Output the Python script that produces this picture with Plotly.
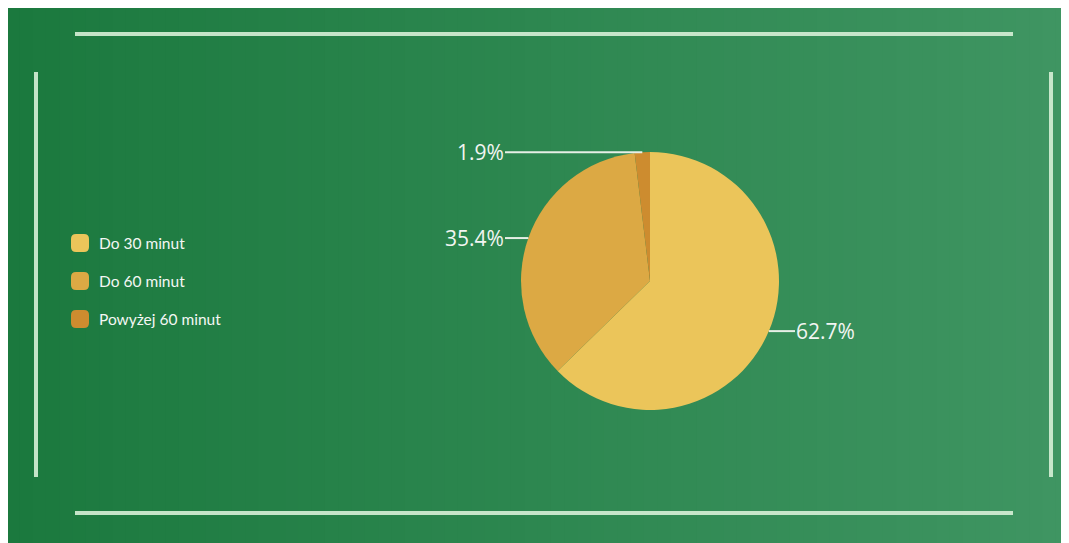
import math
import plotly.graph_objects as go

# ---- data ----
categories = ["Do 30 minut", "Do 60 minut", "Powyżej 60 minut"]
values = [62.7, 35.4, 1.9]
value_labels = ["62.7%", "35.4%", "1.9%"]
colors = ["#ebc55a", "#dca944", "#cd8c2f"]

# ---- layout constants (pixels, in reference-page coordinates) ----
OFF = 8                 # page body margin of the html page
W, H = 1069, 543
CX, CY, R = 650, 281, 129  # pie centre / radius in px (y from top)


def px(x):
    return (x - OFF) / W


def py(y):
    return 1 - (y - OFF) / H


fig = go.Figure()
fig.add_trace(go.Pie(
    labels=categories,
    values=values,
    marker=dict(colors=colors, line=dict(width=0)),
    sort=False,
    direction="clockwise",
    rotation=0,
    textinfo="none",
    hoverinfo="label+percent",
    showlegend=False,
    domain=dict(x=[px(CX - R), px(CX + R)], y=[py(CY + R), py(CY - R)]),
))

shapes = []
annotations = []

# ---- gradient background (decoration) ----
c0 = (27, 121, 62)
c1 = (63, 149, 98)
n = 80
x_start, x_end = 6, 1069
for i in range(n):
    t = i / (n - 1)
    col = tuple(round(c0[k] + (c1[k] - c0[k]) * t) for k in range(3))
    xa = x_start + (x_end - x_start) * i / n
    xb = OFF + W if i == n - 1 else x_start + (x_end - x_start) * (i + 1) / n + 3
    shapes.append(dict(type="rect", xref="paper", yref="paper",
                       x0=max(px(xa), 0), x1=min(px(xb), 1), y0=0, y1=min(py(6), 1),
                       fillcolor="rgb(%d,%d,%d)" % col, line=dict(width=0), layer="below"))

# ---- decorative frame lines ----
frame_col = "rgba(215,240,215,0.9)"
for (xa, ya, xb, yb) in [(75, 34, 1013, 34), (75, 513, 1013, 513),
                         (36, 72, 36, 477), (1051, 72, 1051, 477)]:
    shapes.append(dict(type="line", xref="paper", yref="paper",
                       x0=px(xa), y0=py(ya), x1=px(xb), y1=py(yb),
                       line=dict(color=frame_col, width=4), layer="below"))

# ---- outside labels with horizontal leader lines ----
total = sum(values)
cum = 0
for v, lab in zip(values, value_labels):
    mid = (cum + v / 2) / total * 2 * math.pi
    cum += v
    sx = CX + R * math.sin(mid)
    sy = CY - R * math.cos(mid)
    if math.sin(mid) >= 0:
        ex = CX + R + 16
        anchor = "left"
        tx = ex - 1
    else:
        ex = CX - R - 16
        anchor = "right"
        tx = ex + 1
    shapes.append(dict(type="line", xref="paper", yref="paper",
                       x0=px(sx), y0=py(sy), x1=px(ex), y1=py(sy),
                       line=dict(color="#e6efe6", width=2)))
    annotations.append(dict(x=px(tx), y=py(sy), xref="paper", yref="paper",
                            text=lab, showarrow=False, xanchor=anchor, yanchor="middle",
                            font=dict(family="Open Sans", size=21, color="#f2f5f2")))

# ---- legend (manual, rounded markers) ----
leg_x, leg_y0, leg_dy, s = 80, 243, 38, 9
for i, (cat, col) in enumerate(zip(categories, colors)):
    yc = leg_y0 + i * leg_dy
    x0, x1 = px(leg_x - s), px(leg_x + s)
    y0, y1 = py(yc + s), py(yc - s)
    rx, ry = 5 / W, 5 / H
    path = (f"M {x0+rx},{y0} L {x1-rx},{y0} Q {x1},{y0} {x1},{y0+ry} "
            f"L {x1},{y1-ry} Q {x1},{y1} {x1-rx},{y1} L {x0+rx},{y1} "
            f"Q {x0},{y1} {x0},{y1-ry} L {x0},{y0+ry} Q {x0},{y0} {x0+rx},{y0} Z")
    shapes.append(dict(type="path", xref="paper", yref="paper", path=path,
                       fillcolor=col, line=dict(width=0)))
    annotations.append(dict(x=px(97), y=py(yc), xref="paper", yref="paper",
                            text=cat, showarrow=False, xanchor="left", yanchor="middle",
                            font=dict(family="Lato", size=15.5, color="#f4f7f4")))

fig.update_layout(
    width=W, height=H,
    margin=dict(l=0, r=0, t=0, b=0),
    paper_bgcolor="white",
    plot_bgcolor="white",
    shapes=shapes,
    annotations=annotations,
    showlegend=False,
)

fig.write_html("out.html")
